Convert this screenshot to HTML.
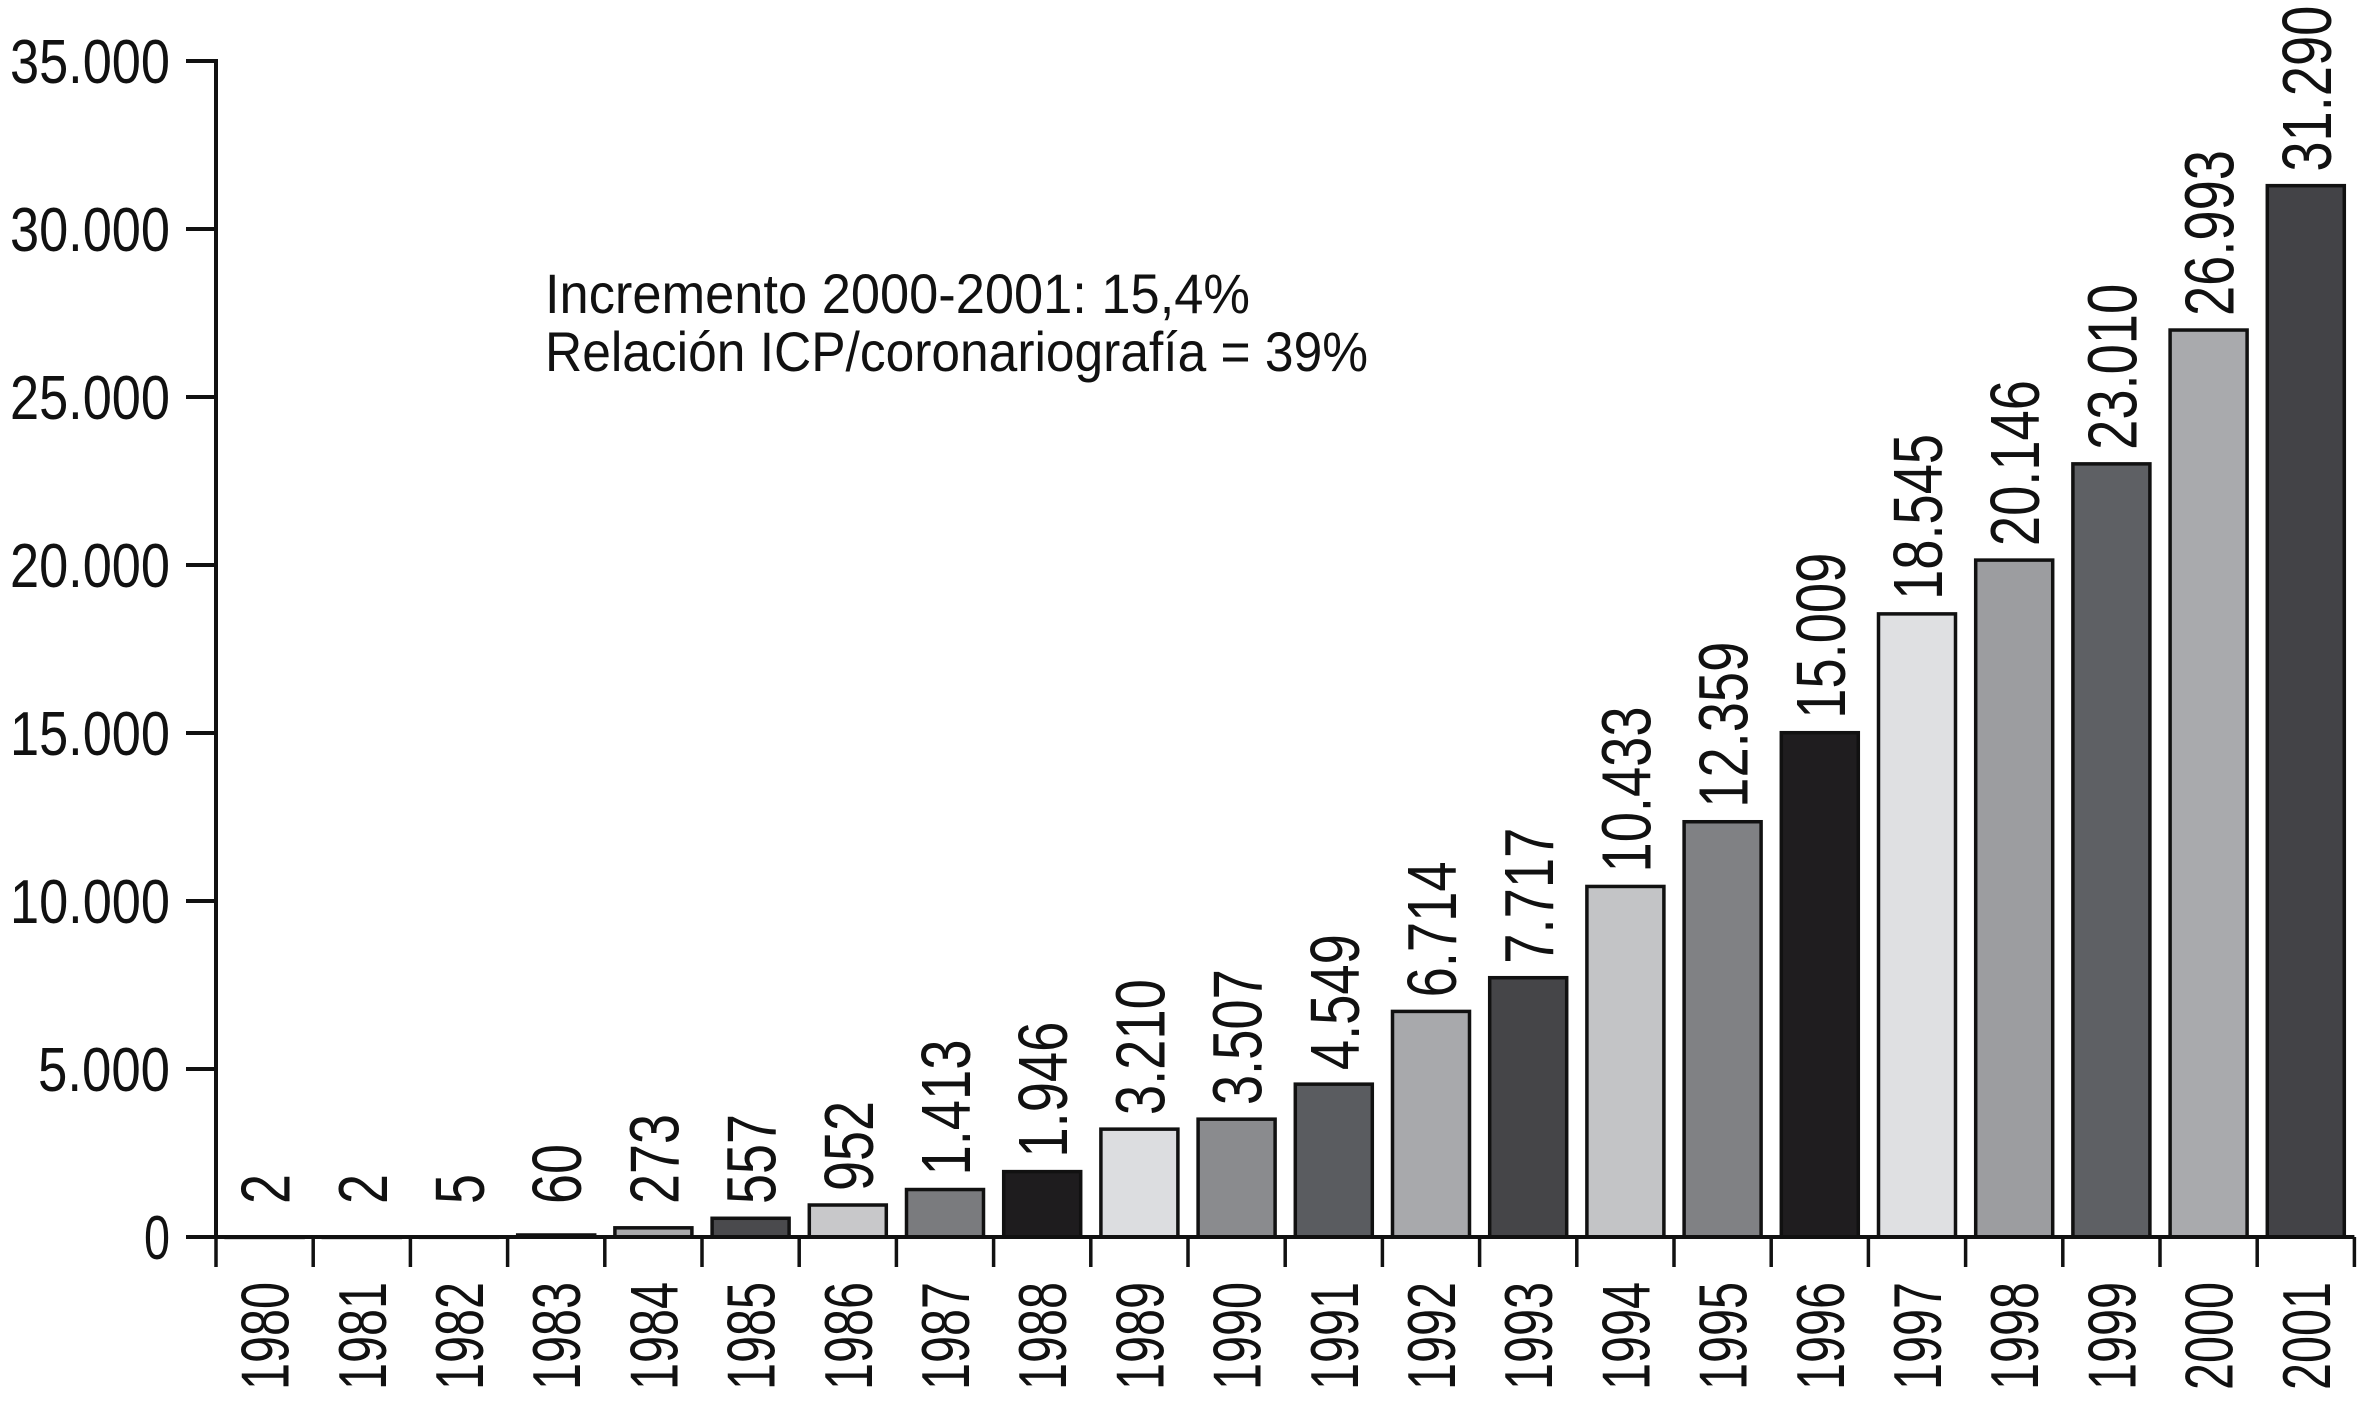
<!DOCTYPE html>
<html><head><meta charset="utf-8"><style>
html,body{margin:0;padding:0;background:#fff;}
svg{display:block;font-family:"Liberation Sans",Arial,sans-serif;}
</style></head><body>
<svg id="chart" width="2362" height="1409" viewBox="0 0 2362 1409">
<text x="545" y="313" font-size="56" textLength="705" lengthAdjust="spacingAndGlyphs" fill="#111">Incremento 2000-2001: 15,4%</text>
<text x="545" y="371" font-size="56" textLength="823" lengthAdjust="spacingAndGlyphs" fill="#111">Relación ICP/coronariografía = 39%</text>
</svg>
<script>
const years = ["1980","1981","1982","1983","1984","1985","1986","1987","1988","1989","1990","1991","1992","1993","1994","1995","1996","1997","1998","1999","2000","2001"];
const values = [2,2,5,60,273,557,952,1413,1946,3210,3507,4549,6714,7717,10433,12359,15009,18545,20146,23010,26993,31290];
const valueLabels = ["2","2","5","60","273","557","952","1.413","1.946","3.210","3.507","4.549","6.714","7.717","10.433","12.359","15.009","18.545","20.146","23.010","26.993","31.290"];
const barColors = ["#555","#555","#555","#444","#a9a9ab","#4a4a4d","#c8c8ca","#7a7b7e","#1e1c1e","#dcdde0","#8a8b8e","#5a5c60","#a8a9ac","#454548","#c3c4c6","#808184","#1f1d1f","#dfe0e2","#9c9da0","#5e6064","#a9aaad","#434347"];
const yTicks = [0,5000,10000,15000,20000,25000,30000,35000];
const yTickLabels = ["0","5.000","10.000","15.000","20.000","25.000","30.000","35.000"];

const NS = "http://www.w3.org/2000/svg";
const svg = document.getElementById("chart");
const X0 = 216, Y0 = 1237, YTOP = 61, STEP = 97.2, YMAX = 35000, BW = 77;
function yScale(v){ return Y0 - (v / YMAX) * (Y0 - YTOP); }
function xCenter(i){ return X0 + STEP * (i + 0.5); }
function mk(tag, attrs){ const e = document.createElementNS(NS, tag); for (const k in attrs) e.setAttribute(k, attrs[k]); svg.appendChild(e); return e; }

years.forEach((yr, i) => {
  const top = yScale(values[i]);
  const r = mk("rect", {x: xCenter(i) - BW/2, y: top, width: BW, height: Math.max(Y0 - top, 0.5), fill: barColors[i], stroke: "#111", "stroke-width": 3.5});
  
  
  const by = Math.min(top - 14, 1204);
  const cx = xCenter(i);
  const t = mk("text", {x: 0, y: 0, "font-size": 70, fill: "#111", transform: `translate(${cx + 25},${by}) rotate(-90)`});
  const len = valueLabels[i].length;
  const tl = len * 30 - (valueLabels[i].includes(".") ? 14 : 0);
  t.setAttribute("textLength", tl);
  t.setAttribute("lengthAdjust", "spacingAndGlyphs");
  t.textContent = valueLabels[i];
  
  
  const yl = mk("text", {x: 0, y: 0, "font-size": 68, fill: "#111", "text-anchor": "end", transform: `translate(${cx + 24},${1282}) rotate(-90)`});
  yl.setAttribute("textLength", 108);
  yl.setAttribute("lengthAdjust", "spacingAndGlyphs");
  yl.textContent = yr;
  
  
});

for (let i = 0; i <= years.length; i++) {
  const x = X0 + STEP * i;
  const l = mk("line", {x1: x, y1: Y0, x2: x, y2: 1267, stroke: "#111", "stroke-width": 3.5});
  
  
}

yTicks.forEach((v, i) => {
  const y = yScale(v);
  const l = mk("line", {x1: 186, y1: y, x2: X0, y2: y, stroke: "#111", "stroke-width": 4});
  
  
  const t = mk("text", {x: 170, y: y + 22, "font-size": 62, fill: "#111", "text-anchor": "end"});
  t.setAttribute("textLength", yTickLabels[i].length === 1 ? 26 : (yTickLabels[i].length === 5 ? 132 : 160));
  t.setAttribute("lengthAdjust", "spacingAndGlyphs");
  t.textContent = yTickLabels[i];
  
  
});

const ya = mk("line", {x1: X0, y1: YTOP - 2, x2: X0, y2: Y0 + 2, stroke: "#111", "stroke-width": 4});


const xa = mk("line", {x1: 186, y1: Y0, x2: X0 + STEP * years.length, y2: Y0, stroke: "#111", "stroke-width": 4});


</script>
</body></html>
